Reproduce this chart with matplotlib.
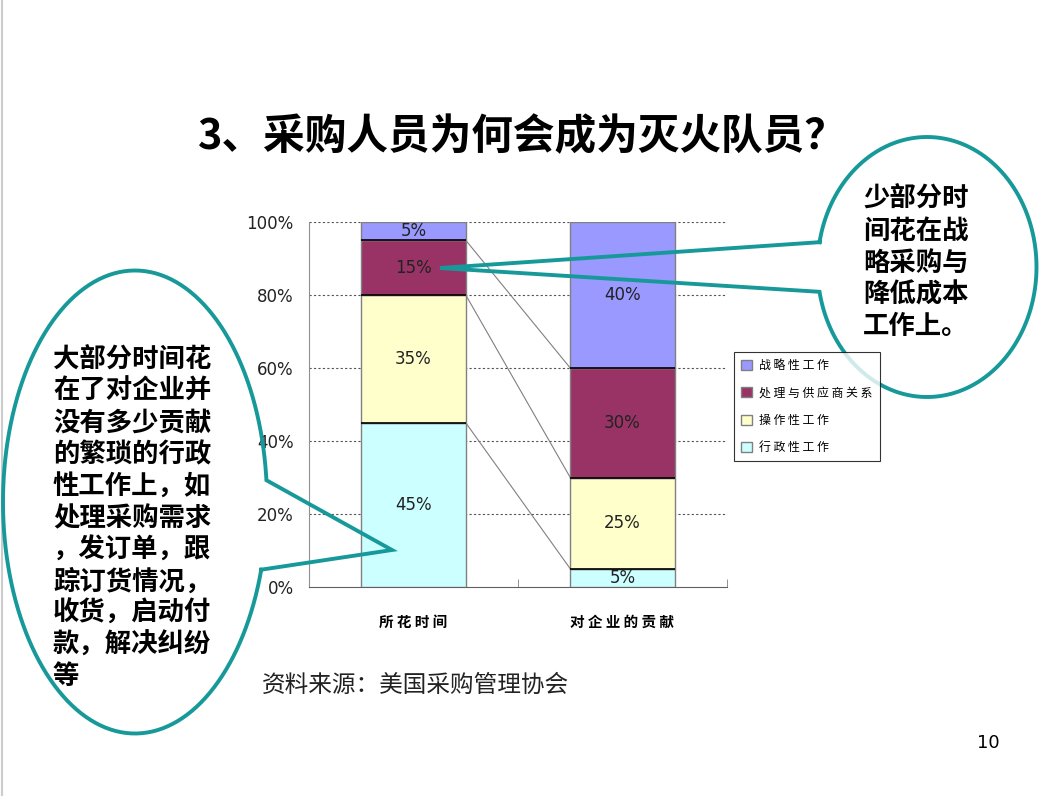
import numpy as np
import matplotlib
matplotlib.use("Agg")
from matplotlib import pyplot as plt

plt.rcParams["font.family"] = ["Noto Sans CJK SC", "DejaVu Sans"]

# 数据
categories = ["所 花 时 间", "对 企 业 的 贡 献"]
series_names = ["行 政 性 工 作", "操 作 性 工 作", "处 理 与 供 应 商 关 系", "战 略 性 工 作"]
series_colors = ["#CCFFFF", "#FFFFCC", "#993366", "#9999FF"]
admin_work = [45, 5]
operation_work = [35, 25]
supplier_work = [15, 30]
strategic_work = [5, 40]
series_values = [admin_work, operation_work, supplier_work, strategic_work]
y_ticks = [0, 20, 40, 60, 80, 100]

title_text = "3、采购人员为何会成为灭火队员？"
left_note = ["大部分时间花", "在了对企业并", "没有多少贡献", "的繁琐的行政", "性工作上，如",
             "处理采购需求", "，发订单，跟", "踪订货情况，", "收货，启动付", "款，解决纠纷", "等"]
right_note = ["少部分时", "间花在战", "略采购与", "降低成本", "工作上。"]
source_text = "资料来源：美国采购管理协会"
page_no = "10"

teal = "#17999A"
W, H = 1064, 796

fig = plt.figure(figsize=(W / 100, H / 100), dpi=100)

# 主图
ax = fig.add_axes([309 / W, 1 - 587 / H, 418 / W, 365 / H])
x = np.arange(len(categories))
bw = 0.5
bottom = np.zeros(len(categories))
for name, vals, col in zip(series_names, series_values, series_colors):
    vals = np.array(vals, dtype=float)
    ax.bar(x, vals, bw, bottom=bottom, color=col, edgecolor="#808080",
           linewidth=1, label=name, zorder=3)
    for xi, b, v in zip(x, bottom, vals):
        ax.text(xi, b + v / 2, f"{int(v)}%", ha="center", va="center",
                fontsize=12, family="DejaVu Sans", color="#222222", zorder=5)
    bottom = bottom + vals
    # 分隔线
    if bottom[0] < 100:
        ax.hlines(bottom, x - bw / 2, x + bw / 2, color="black", lw=1.2, zorder=4)

# 系列连线
cum = np.cumsum(np.array(series_values), axis=0)
for row in cum[:-1]:
    ax.plot([x[0] + bw / 2, x[1] - bw / 2], [row[0], row[1]],
            color="#808080", lw=0.8, zorder=2)

ax.set_xlim(-0.5, 1.5)
ax.set_ylim(0, 100)
ax.set_yticks(y_ticks)
ax.set_yticklabels([f"{v}%" for v in y_ticks], family="DejaVu Sans", fontsize=12,
                   color="#222222")
ax.tick_params(axis="y", length=0, pad=11)
ax.set_xticks(x)
ax.set_xticklabels(categories, fontsize=10.5, fontweight="bold")
ax.tick_params(axis="x", length=0, pad=19)
ax.set_xticks([-0.5, 0.5, 1.5], minor=True)
ax.tick_params(axis="x", which="minor", direction="in", length=6, color="#808080")
for v in y_ticks[1:]:
    ax.axhline(v, color="#555555", lw=0.8, ls=(0, (2, 2)), zorder=1)
for s in ["top", "right"]:
    ax.spines[s].set_visible(False)
ax.spines["left"].set_color("#909090")
ax.spines["bottom"].set_color("#606060")

handles, labels = ax.get_legend_handles_labels()
leg = fig.legend(handles[::-1], labels[::-1], loc="upper left",
                 bbox_to_anchor=(734 / W, 1 - 352 / H), borderaxespad=0,
                 fontsize=8.6, frameon=True, fancybox=False, edgecolor="black",
                 handlelength=0.9, handleheight=0.9, handletextpad=0.6,
                 labelspacing=1.2, borderpad=0.6)
leg.get_frame().set_linewidth(0.8)

# 覆盖层：标题、标注
ov = fig.add_axes([0, 0, 1, 1], facecolor="none")
ov.set_xlim(0, W)
ov.set_ylim(H, 0)
ov.axis("off")

ov.plot([2, 2], [0, H], color="#CCCCCC", lw=1.5)
ov.text(522, 137, title_text, ha="center", va="center", fontsize=30,
        fontweight="bold", color="black")


def callout(cx, cy, a, b, t0, t1, tip):
    t = np.radians(np.linspace(t0, t1, 300))
    xs = list(cx + a * np.cos(t)) + [tip[0], cx + a * np.cos(t[0])]
    ys = list(cy + b * np.sin(t)) + [tip[1], cy + b * np.sin(t[0])]
    ov.plot(xs, ys, color=teal, lw=2.8, solid_joinstyle="miter")


callout(927, 267, 109.5, 130, 191, 529, (440, 268))
callout(135, 502, 132, 231.5, 17, 354.6, (392, 550))

for i, line in enumerate(left_note):
    ov.text(53, 360 + i * 31.7, line, ha="left", va="center", fontsize=19,
            fontweight="bold", color="black")
for i, line in enumerate(right_note):
    ov.text(863, 199 + i * 32, line, ha="left", va="center", fontsize=19,
            fontweight="bold", color="black")

ov.text(262, 685, source_text, ha="left", va="center", fontsize=17, color="#222222")
ov.text(1000, 743, page_no, ha="right", va="center", fontsize=13,
        family="DejaVu Sans", color="black")

fig.savefig("out.png", dpi=100)
